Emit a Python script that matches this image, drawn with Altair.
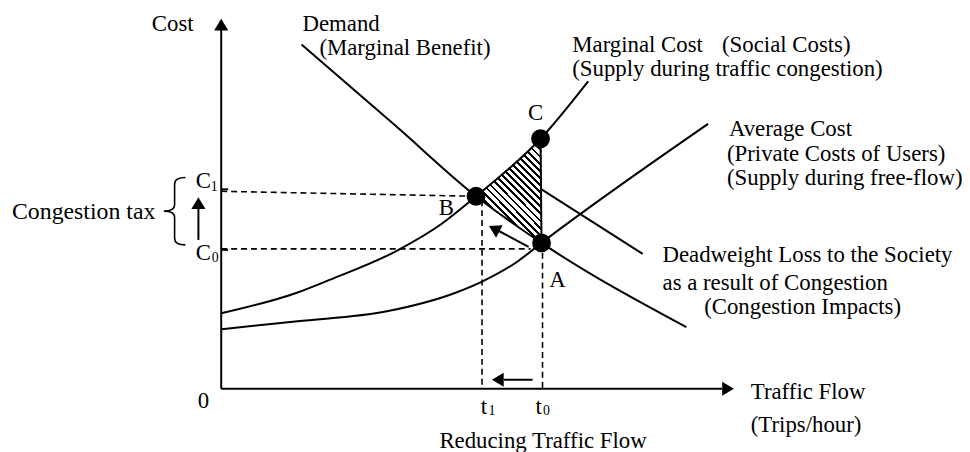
import altair as alt
import pandas as pd
import numpy as np

# ---- values (flow units right of origin, cost units above it) ----
mc_flow = [0, 77, 110, 177, 222, 257, 322, 370]
mc_cost = [76, 97, 110, 139, 166, 194, 252, 310]
ac_flow = [0, 77, 167, 237, 263, 297, 323, 491]
ac_cost = [60, 68, 78, 97, 108, 127, 147, 267]
dem_flow = [81, 177, 257, 323, 469]
dem_cost = [347, 264, 194, 147, 62]

pt_name = ["B", "C", "A"]
pt_flow = [257, 322, 323]
pt_cost = [194, 252, 147]

t1_flow, t0_flow = 263, 324
c1_cost, c0_cost = 199, 141

FONT = "Liberation Serif"

curves = pd.concat([
    pd.DataFrame({"fx": mc_flow, "cy": mc_cost, "curve": "MC"}),
    pd.DataFrame({"fx": ac_flow, "cy": ac_cost, "curve": "AC"}),
    pd.DataFrame({"fx": dem_flow, "cy": dem_cost, "curve": "D"}),
])
points = pd.DataFrame({"name": pt_name, "fx": pt_flow, "cy": pt_cost})

dashed = pd.DataFrame({
    "fx": [0, 0, t1_flow, t0_flow],
    "cy": [c1_cost, c0_cost, 190, pt_cost[2]],
    "fx2": [pt_flow[0], 312, t1_flow, t0_flow],
    "cy2": [194, c0_cost, 0, 0],
})

solid = pd.DataFrame({
    "fx":  [0, 0, 323, pt_flow[1], 0, 0, -23, 314, 310],
    "cy":  [0, 0, 201, pt_cost[1], 201, 140, 150, 9, 143],
    "fx2": [0, 505, 425, pt_flow[1] + 1, 7, 7, -23, 285, 278],
    "cy2": [362, 0, 136, pt_cost[2], 201, 140, 182, 9, 160],
})

# arrow heads: tip position and the tail they come from
head_fx = [0, 517, -23, 273, 270]
head_cy = [373, 0, 193, 9, 164]
tail_fx = [0, 0, -23, 314, 310]
tail_cy = [0, 0, 150, 9, 143]
heads = pd.DataFrame({"fx": head_fx, "cy": head_cy})
heads["angle"] = np.degrees(np.arctan2(np.array(head_fx) - np.array(tail_fx),
                                       np.array(head_cy) - np.array(tail_cy))) % 360

labels_left = pd.DataFrame([
    ("Cost", -70, 368, 23),
    ("Demand", 82, 368, 23),
    ("(Marginal Benefit)", 99, 343, 23),
    ("Marginal Cost", 354, 346, 23),
    ("(Social Costs)", 505, 346, 23),
    ("(Supply during traffic congestion)", 354, 322, 23),
    ("Average Cost", 512, 262, 23),
    ("(Private Costs of Users)", 510, 237, 23),
    ("(Supply during free-flow)", 510, 212, 23),
    ("Deadweight Loss to the Society", 445, 135, 23),
    ("as a result of Congestion", 445, 107, 23),
    ("(Congestion Impacts)", 487, 82, 23),
    ("Congestion tax", -211, 178, 24),
    ("Reducing Traffic Flow", 220, -53, 23),
    ("Traffic Flow", 534, -3, 23),
    ("(Trips/hour)", 534, -37, 23),
], columns=["text", "fx", "cy", "fs"])

labels_center = pd.DataFrame([
    ("C", 317, 278, 23),
    ("A", 339, 110, 23),
    ("B", 227, 182, 23),
    ("0", -18, -12, 23),
    ("C", -18, 209, 23),
    ("1", -7, 203, 14),
    ("C", -18, 137, 23),
    ("0", -6, 132, 14),
    ("t", 265, -19, 23),
    ("1", 273, -23, 14),
    ("t", 320, -19, 23),
    ("0", 328, -23, 14),
], columns=["text", "fx", "cy", "fs"])

brace = pd.DataFrame({"fx": [-47], "cy": [179]})
triangle = pd.DataFrame({"fx": [pt_flow[0], pt_flow[2]],
                         "cy": [pt_cost[0], pt_cost[1]],
                         "cy2": [pt_cost[0], pt_cost[2]]})

xs = alt.Scale(domain=[-215, 747], nice=False, zero=False)
ys = alt.Scale(domain=[-62, 382], nice=False, zero=False)
X = alt.X("fx:Q", scale=xs, axis=None)
Y = alt.Y("cy:Q", scale=ys, axis=None)

# hatch pattern as hard-edged gradient stripes (about 45 degrees on screen)
stops = []
n = 24
for i in range(n):
    a = i / n
    b = (i + 0.4) / n
    c = (i + 1) / n
    stops += [alt.GradientStop(color="black", offset=a), alt.GradientStop(color="black", offset=b),
              alt.GradientStop(color="white", offset=b), alt.GradientStop(color="white", offset=c)]
hatch = alt.Gradient(gradient="linear", stops=stops, x1=0, y1=1, x2=0.74, y2=-0.17)

tri = alt.Chart(triangle).mark_area(color=hatch, opacity=1).encode(
    x=X, y=Y, y2="cy2:Q")

lines = alt.Chart(curves).mark_line(color="black", strokeWidth=2, interpolate="monotone").encode(
    x=X, y=Y, detail="curve:N")

dash = alt.Chart(dashed).mark_rule(color="black", strokeWidth=1.6, strokeDash=[6, 4]).encode(
    x=X, y=Y, x2="fx2:Q", y2="cy2:Q")

sol = alt.Chart(solid).mark_rule(color="black", strokeWidth=2).encode(
    x=X, y=Y, x2="fx2:Q", y2="cy2:Q")

head_path = "M0,0 L-0.6,1 L0.6,1 Z"
hd = alt.Chart(heads).mark_point(shape=head_path, filled=True, color="black", opacity=1,
                                 size=560, strokeWidth=0).encode(
    x=X, y=Y, angle=alt.Angle("angle:Q", scale=None))

dots = alt.Chart(points).mark_circle(color="black", opacity=1, size=360).encode(x=X, y=Y)

brace_path = "M0.32,-1 Q0,-1 0,-0.8 L0,-0.18 Q0,0 -0.32,0 Q0,0 0,0.18 L0,0.8 Q0,1 0.32,1"
br = alt.Chart(brace).mark_point(shape=brace_path, filled=False, color="black", opacity=1,
                                 size=4624, strokeWidth=1.6).encode(x=X, y=Y)

tl = alt.Chart(labels_left).mark_text(font=FONT, align="left", baseline="middle", color="black").encode(
    x=X, y=Y, text="text:N", size=alt.Size("fs:Q", scale=None))
tc = alt.Chart(labels_center).mark_text(font=FONT, align="center", baseline="middle", color="black").encode(
    x=X, y=Y, text="text:N", size=alt.Size("fs:Q", scale=None))

chart = alt.layer(tri, lines, dash, sol, hd, dots, br, tl, tc).properties(
    width=962, height=444, autosize=alt.AutoSizeParams(type="none"), padding=0,
    background="white"
).configure_view(stroke=None)

chart.save("out.html", embed_options={"renderer": "svg", "actions": False})
